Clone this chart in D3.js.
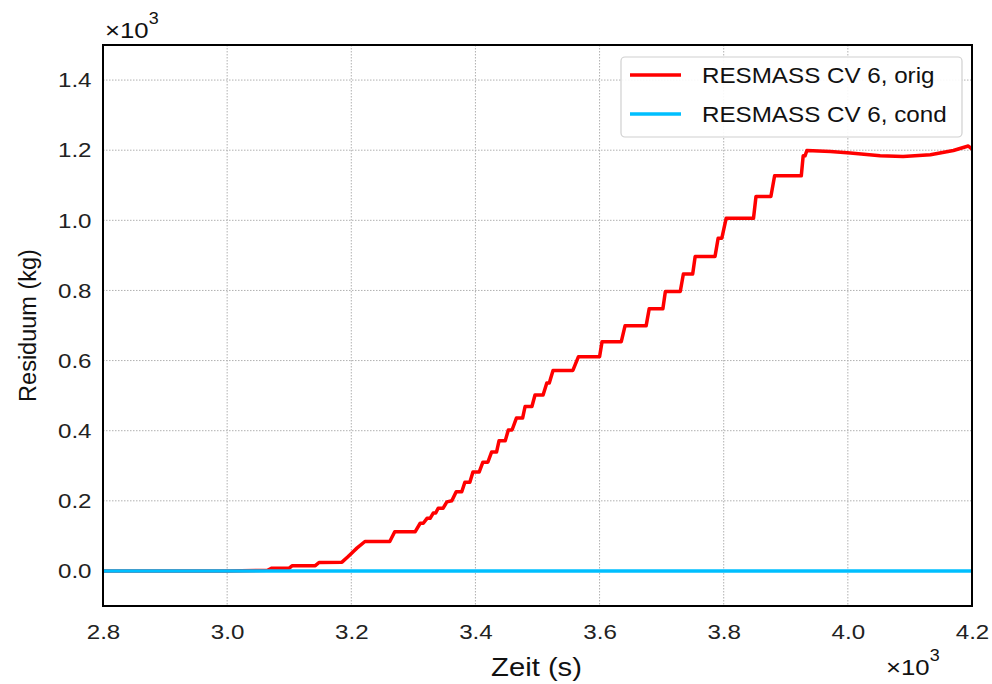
<!DOCTYPE html>
<html>
<head>
<meta charset="utf-8">
<script src="https://cdn.jsdelivr.net/npm/d3@7"></script>
<style>
  html, body { margin: 0; padding: 0; background: #fff; }
  svg { display: block; font-family: "Liberation Sans", Arial, sans-serif; }
</style>
</head>
<body>
<svg id="chart" width="992" height="684"></svg>
<script>
// Data (values in units of 10^3)
const origTime = [2.800, 3.000, 3.065, 3.072, 3.100, 3.105, 3.142, 3.148, 3.185, 3.195, 3.203, 3.209, 3.222, 3.262, 3.270, 3.303, 3.311, 3.316, 3.322, 3.327, 3.332, 3.336, 3.340, 3.348, 3.354, 3.362, 3.369, 3.378, 3.383, 3.391, 3.396, 3.406, 3.412, 3.420, 3.426, 3.434, 3.438, 3.448, 3.453, 3.459, 3.466, 3.476, 3.480, 3.491, 3.496, 3.509, 3.515, 3.519, 3.525, 3.557, 3.566, 3.600, 3.604, 3.635, 3.641, 3.675, 3.680, 3.702, 3.706, 3.730, 3.735, 3.750, 3.754, 3.786, 3.791, 3.797, 3.804, 3.848, 3.852, 3.876, 3.882, 3.925, 3.928, 3.931, 3.934, 3.972, 4.004, 4.052, 4.089, 4.133, 4.170, 4.194, 4.200];
const origValue = [0.000, 0.000, 0.002, 0.008, 0.008, 0.015, 0.015, 0.024, 0.025, 0.041, 0.055, 0.065, 0.084, 0.084, 0.112, 0.112, 0.136, 0.136, 0.150, 0.150, 0.165, 0.165, 0.179, 0.179, 0.197, 0.200, 0.226, 0.226, 0.253, 0.253, 0.282, 0.282, 0.310, 0.310, 0.339, 0.339, 0.371, 0.371, 0.402, 0.402, 0.436, 0.436, 0.469, 0.469, 0.502, 0.502, 0.536, 0.536, 0.572, 0.572, 0.611, 0.611, 0.654, 0.654, 0.699, 0.699, 0.748, 0.748, 0.797, 0.797, 0.847, 0.847, 0.897, 0.897, 0.949, 0.949, 1.006, 1.006, 1.068, 1.068, 1.127, 1.127, 1.184, 1.184, 1.199, 1.196, 1.192, 1.184, 1.182, 1.187, 1.199, 1.212, 1.203];
const condTime = [2.8, 3.0, 3.2, 3.4, 3.6, 3.8, 4.0, 4.2];
const condValue = [0, 0, 0, 0, 0, 0, 0, 0];
const seriesNames = ["RESMASS CV 6, orig", "RESMASS CV 6, cond"];
const seriesColors = ["#ff0000", "#00bfff"];
const xTicks = [2.8, 3.0, 3.2, 3.4, 3.6, 3.8, 4.0, 4.2];
const yTicks = [0.0, 0.2, 0.4, 0.6, 0.8, 1.0, 1.2, 1.4];

const svg = d3.select("#chart");
const m = { left: 103, right: 972, top: 45, bottom: 606 };

const x = d3.scaleLinear().domain([2.8, 4.2]).range([m.left, m.right]);
const y = d3.scaleLinear().domain([-0.1, 1.5]).range([m.bottom, m.top]);

// grid
const grid = svg.append("g");
grid.selectAll("line.vx").data(xTicks).join("line")
  .attr("x1", d => x(d)).attr("x2", d => x(d))
  .attr("y1", m.top).attr("y2", m.bottom)
  .attr("stroke", "#b0b0b0").attr("stroke-width", 1).attr("stroke-dasharray", "1.5,1.5");
grid.selectAll("line.hy").data(yTicks).join("line")
  .attr("x1", m.left).attr("x2", m.right)
  .attr("y1", d => y(d)).attr("y2", d => y(d))
  .attr("stroke", "#b0b0b0").attr("stroke-width", 1).attr("stroke-dasharray", "1.5,1.5");

// lines
const line = d3.line().x(d => x(d[0])).y(d => y(d[1]));
const origData = origTime.map((t, i) => [t, origValue[i]]);
const condData = condTime.map((t, i) => [t, condValue[i]]);

svg.append("defs").append("clipPath").attr("id", "clip")
  .append("rect").attr("x", m.left).attr("y", m.top)
  .attr("width", m.right - m.left).attr("height", m.bottom - m.top);

const plot = svg.append("g").attr("clip-path", "url(#clip)");
plot.append("path").datum(origData).attr("d", line)
  .attr("fill", "none").attr("stroke", seriesColors[0]).attr("stroke-width", 3.5)
  .attr("stroke-linejoin", "round");
plot.append("path").datum(condData).attr("d", line)
  .attr("fill", "none").attr("stroke", seriesColors[1]).attr("stroke-width", 3.5);

// axes (labels only, no outside ticks)
const SX = 1.15;
const xAxis = d3.axisBottom(x).tickValues(xTicks).tickFormat(d3.format(".1f")).tickSize(0).tickPadding(18);
const gx = svg.append("g").attr("transform", `translate(0,${m.bottom})`).call(xAxis);
gx.select(".domain").remove();
gx.selectAll("text").attr("font-size", 21).attr("fill", "#222")
  .attr("font-family", "Liberation Sans, Arial, sans-serif")
  .attr("transform", `scale(${SX},1)`);

const yAxis = d3.axisLeft(y).tickValues(yTicks).tickFormat(d3.format(".1f")).tickSize(0).tickPadding(10);
const gy = svg.append("g").attr("transform", `translate(${m.left},0)`).call(yAxis);
gy.select(".domain").remove();
gy.selectAll("text").attr("font-size", 21).attr("fill", "#222")
  .attr("font-family", "Liberation Sans, Arial, sans-serif")
  .attr("transform", `scale(${SX},1)`);

// frame
svg.append("rect").attr("x", m.left).attr("y", m.top)
  .attr("width", m.right - m.left).attr("height", m.bottom - m.top)
  .attr("fill", "none").attr("stroke", "#000").attr("stroke-width", 2);

// helper for horizontally-stretched text
function stretched(xp, yp, sx, size, anchor, txt) {
  return svg.append("g").attr("transform", `translate(${xp},${yp}) scale(${sx},1)`)
    .append("text").attr("text-anchor", anchor).attr("font-size", size).attr("fill", "#111").text(txt);
}

// axis titles
stretched((m.left + m.right) / 2 - 1, 676, 1.17, 25, "middle", "Zeit (s)");
svg.append("text").attr("transform", `translate(36,${(m.top + m.bottom) / 2}) rotate(-90)`)
  .attr("text-anchor", "middle").attr("font-size", 23.5).attr("fill", "#111").text("Residuum (kg)");

// multipliers
function mult(xp, yp) {
  const t = svg.append("g").attr("transform", `translate(${xp},${yp}) scale(1.12,1)`)
    .append("text").attr("font-size", 23).attr("fill", "#111");
  t.append("tspan").text("×10");
  t.append("tspan").attr("dy", -14).attr("font-size", 16).text("3");
}
mult(105, 38);
mult(886, 675);

// legend
const lg = svg.append("g");
lg.append("rect").attr("x", 621).attr("y", 57).attr("width", 341).attr("height", 80)
  .attr("rx", 4).attr("fill", "#fff").attr("fill-opacity", 0.9)
  .attr("stroke", "#d0d0d0").attr("stroke-width", 1.2);
seriesNames.forEach((name, i) => {
  const yy = 75 + i * 39;
  lg.append("line").attr("x1", 630).attr("x2", 681).attr("y1", yy).attr("y2", yy)
    .attr("stroke", seriesColors[i]).attr("stroke-width", 3.5);
  stretched(702, yy + 8, 1.1, 22, "start", name);
});
</script>
</body>
</html>
